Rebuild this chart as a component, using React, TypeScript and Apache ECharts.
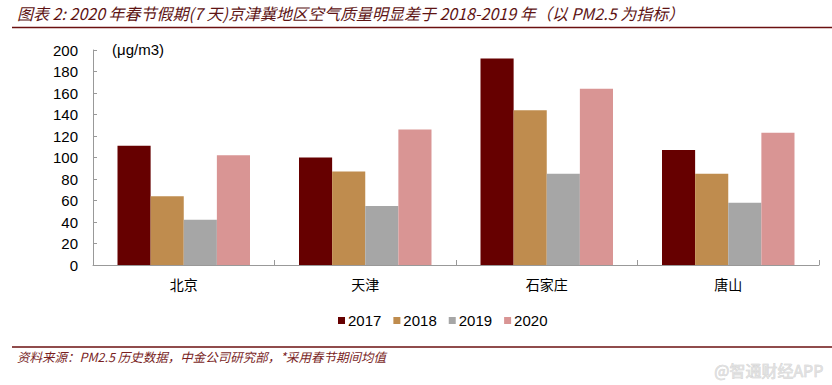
import React, { useEffect, useRef } from "react";
import * as echarts from "echarts";

const cities = ["北京", "天津", "石家庄", "唐山"];
const years = ["2017", "2018", "2019", "2020"];
const v2017 = [111, 100, 192, 107];
const v2018 = [64, 87, 144, 85];
const v2019 = [42, 55, 85, 58];
const v2020 = [102, 126, 164, 123];
const colors = ["#660000", "#BF8C4E", "#A6A6A6", "#D99594"];
const yTicks = { min: 0, max: 200, interval: 20 };
const titleText = "图表 2: 2020 年春节假期(7 天)京津冀地区空气质量明显差于 2018-2019 年（以 PM2.5 为指标）";
const sourceText = "资料来源：PM2.5 历史数据，中金公司研究部，*采用春节期间均值";
const unitText = "(μg/m3)";
const watermark = "@智通财经APP";

export default function App() {
  const ref = useRef<HTMLDivElement>(null);
  useEffect(() => {
    document.body.style.margin = "0";
    const chart = echarts.init(ref.current!, null, { renderer: "svg" });
    const seriesData = [v2017, v2018, v2019, v2020];
    chart.setOption({
      animation: false,
      backgroundColor: "#ffffff",
      textStyle: { fontFamily: "'Liberation Sans', Arial, sans-serif" },
      grid: { left: 93, right: 13, top: 50, bottom: 120, containLabel: false },
      legend: {
        data: years,
        top: 308,
        left: 333,
        itemWidth: 7,
        itemHeight: 7,
        itemGap: 12,
        icon: "rect",
        textStyle: { fontSize: 15, color: "#000", fontFamily: "'Liberation Sans', Arial, sans-serif", padding: [0, 0, 0, -2] },
      },
      xAxis: {
        type: "category",
        data: cities,
        axisLine: { lineStyle: { color: "#999", width: 1 } },
        axisTick: { show: true, inside: true, length: 5, lineStyle: { color: "#999" } },
        axisLabel: { fontSize: 14, color: "#000", margin: 12, fontFamily: "'Noto Sans CJK SC', sans-serif" },
      },
      yAxis: {
        type: "value",
        min: yTicks.min,
        max: yTicks.max,
        interval: yTicks.interval,
        axisLine: { show: true, lineStyle: { color: "#999", width: 1 } },
        axisTick: { show: true, inside: true, length: 4, lineStyle: { color: "#999" } },
        splitLine: { show: false },
        axisLabel: { fontSize: 15, color: "#000", margin: 15 },
      },
      series: years.map((y, i) => ({
        name: y,
        type: "bar",
        data: seriesData[i],
        barGap: "0%",
        barCategoryGap: "27%",
        itemStyle: { color: colors[i] },
      })),
      graphic: [
        {
          type: "text",
          left: 17,
          top: 5,
          style: {
            text: titleText,
            fontSize: 16,
            fontStyle: "italic",
            fontFamily: "'Noto Sans CJK SC', sans-serif",
            fill: "#5e1414",
          },
        },
        {
          type: "line",
          shape: { x1: 12, y1: 27.5, x2: 832, y2: 27.5 },
          style: { stroke: "#6b1010", lineWidth: 1.5 },
        },
        {
          type: "text",
          left: 112,
          top: 42,
          style: { text: unitText, fontSize: 15, fill: "#000", fontFamily: "'Liberation Sans', Arial, sans-serif" },
        },
        {
          type: "line",
          shape: { x1: 12, y1: 347, x2: 832, y2: 347 },
          style: { stroke: "#6b1010", lineWidth: 1.5 },
        },
        {
          type: "text",
          left: 17,
          top: 350,
          style: {
            text: sourceText,
            fontSize: 12.5,
            fontStyle: "italic",
            fontFamily: "'Noto Sans CJK SC', sans-serif",
            fill: "#7a1f1f",
          },
        },
        {
          type: "text",
          left: 714,
          top: 362,
          style: {
            text: watermark,
            fontSize: 16,
            fontFamily: "'Noto Sans CJK SC', sans-serif",
            fill: "#e0e0e0",
            stroke: "#c8c8c8",
            lineWidth: 0.5,
          },
        },
      ],
    });
    return () => chart.dispose();
  }, []);
  return <div ref={ref} style={{ width: 832, height: 385 }} />;
}
